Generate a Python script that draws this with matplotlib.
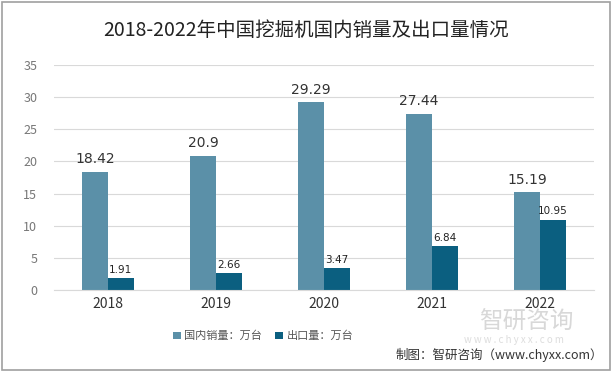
import numpy as np
import matplotlib.pyplot as plt
from matplotlib.patches import Rectangle

plt.rcParams['font.family'] = ['Noto Sans CJK SC', 'DejaVu Sans']

years = ["2018", "2019", "2020", "2021", "2022"]
domestic = [18.42, 20.9, 29.29, 27.44, 15.19]
export = [1.91, 2.66, 3.47, 6.84, 10.95]

c1 = "#5B90A8"
c2 = "#0B5F80"

fig = plt.figure(figsize=(6.12, 3.71), dpi=100)
ax = fig.add_axes([0.088, 0.218, 0.883, 0.607])

x = np.arange(len(years))
w = 0.24
b1 = ax.bar(x - w/2, domestic, w, color=c1, label="国内销量：万台")
b2 = ax.bar(x + w/2, export, w, color=c2, label="出口量：万台")

# data labels
for r, v in zip(b1, domestic):
    ax.text(r.get_x() + r.get_width()/2, v + 0.8, f"{v:g}", ha="center", va="bottom",
            fontsize=10, color="#333333", family="DejaVu Sans")
for r, v in zip(b2, export):
    ax.text(r.get_x() + r.get_width()/2, v + 0.5, f"{v:g}", ha="center", va="bottom",
            fontsize=7.5, color="#222222", family="DejaVu Sans")

ax.set_ylim(0, 35)
ax.set_xlim(-0.5, 4.5)
ax.set_yticks(range(0, 36, 5))
ax.set_xticks(x)
ax.set_xticklabels(years, fontsize=10, color="#333333")
ax.tick_params(axis="y", labelsize=9, labelcolor="#777777", length=0, pad=12)
ax.tick_params(axis="x", length=0, pad=5)
ax.grid(axis="y", color="#D9D9D9", linewidth=0.8)
ax.set_axisbelow(True)
for s in ["top", "right", "left"]:
    ax.spines[s].set_visible(False)
ax.spines["bottom"].set_color("#D9D9D9")

fig.text(0.5, 0.918, "2018-2022年中国挖掘机国内销量及出口量情况", ha="center", va="center",
         fontsize=14, color="#222222")

fig.legend(handles=[b1, b2], loc="center", bbox_to_anchor=(0.43, 0.094), ncol=2,
           frameon=False, fontsize=8, handlelength=0.7, handleheight=0.7,
           columnspacing=1.2, handletextpad=0.3, labelcolor="#555555")

# watermark
fig.text(0.86, 0.13, "智研咨询", ha="center", va="center", fontsize=17, color="#D8D8D8")
fig.text(0.84, 0.083, "w w w . c h y x x . c o m", ha="center", va="center", fontsize=7, color="#DDDDDD")
fig.text(0.985, 0.043, "制图：智研咨询（www.chyxx.com）", ha="right", va="center",
         fontsize=9, color="#333333")

fig.patches.append(Rectangle((0.003, 0.004), 0.994, 0.99, transform=fig.transFigure,
                             fill=False, edgecolor="#A0A0A0", linewidth=1.2))

fig.savefig("out.png", dpi=100)
